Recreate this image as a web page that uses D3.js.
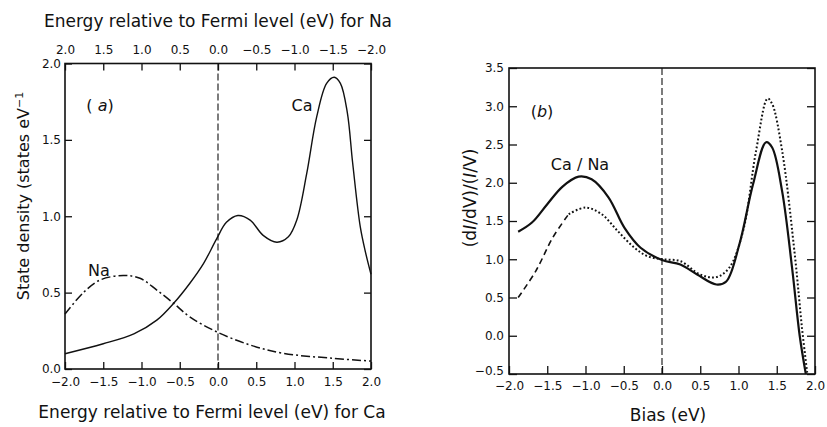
<!DOCTYPE html>
<html><head><meta charset="utf-8">
<script src="https://cdn.jsdelivr.net/npm/d3@7"></script>
<style>body{margin:0;background:#fff;} text{font-family:"DejaVu Sans",sans-serif;fill:#111;}</style>
</head><body><svg id="c" width="827" height="427"></svg>
<script>
// ---- Panel (a) data ----
const caX = [-2.0,-1.5,-1.1,-0.8,-0.58,-0.37,-0.19,-0.02,0.11,0.26,0.42,0.59,0.77,0.92,1.03,1.16,1.29,1.42,1.52,1.6,1.69,1.76,1.86,1.93,2.0];
const caY = [0.10,0.165,0.23,0.32,0.43,0.56,0.69,0.85,0.96,1.005,0.975,0.875,0.83,0.865,0.975,1.28,1.65,1.87,1.91,1.87,1.68,1.35,0.93,0.76,0.62];
const naX = [-2.0,-1.76,-1.54,-1.24,-1.02,-0.8,-0.58,-0.37,-0.02,0.42,0.85,1.5,2.0];
const naY = [0.36,0.50,0.583,0.612,0.594,0.517,0.43,0.342,0.244,0.157,0.103,0.07,0.052];
const xTicksA = [-2.0,-1.5,-1.0,-0.5,0.0,0.5,1.0,1.5,2.0];
const yTicksA = [0.0,0.5,1.0,1.5,2.0];
// ---- Panel (b) data ----
const solidX = [-1.88,-1.7,-1.5,-1.3,-1.09,-0.92,-0.7,-0.49,-0.28,0.0,0.24,0.46,0.71,0.84,1.01,1.19,1.36,1.44,1.57,1.70,1.80,1.88];
const solidY = [1.36,1.48,1.72,1.95,2.08,2.045,1.81,1.41,1.15,0.99,0.93,0.80,0.67,0.71,1.19,1.98,2.53,2.46,1.89,0.89,0.0,-0.5];
const dotX = [-1.88,-1.65,-1.43,-1.22,-1.0,-0.79,-0.58,-0.36,-0.19,0.0,0.24,0.5,0.71,0.88,1.06,1.23,1.38,1.44,1.57,1.74,1.83,1.9];
const dotY = [0.5,0.845,1.28,1.59,1.675,1.59,1.37,1.15,1.04,1.0,0.975,0.80,0.766,0.89,1.37,2.42,3.10,3.03,2.42,1.02,0.1,-0.5];
const xTicksB = [-2.0,-1.5,-1.0,-0.5,0.0,0.5,1.0,1.5,2.0];
const yTicksB = [-0.5,0.0,0.5,1.0,1.5,2.0,2.5,3.0,3.5];

const svg = d3.select("#c");
const fmt = d3.format(".1f");
const curve = d3.curveCatmullRom.alpha(0.5);

// ---------- Panel a ----------
const A = {l:65, r:371, t:63.5, b:369};
const xa = d3.scaleLinear().domain([-2,2]).range([A.l,A.r]);
const xaNa = d3.scaleLinear().domain([2,-2]).range([A.l,A.r]);
const ya = d3.scaleLinear().domain([0,2]).range([A.b,A.t]);
const ga = svg.append("g");

function styleAxis(g){ g.select(".domain").remove(); g.selectAll(".tick line").attr("stroke","#111").attr("stroke-width",1.3);
  g.selectAll("text").style("font-size","12px").attr("fill","#111"); }

ga.append("g").attr("transform",`translate(0,${A.b})`)
  .call(d3.axisBottom(xa).tickValues(xTicksA).tickFormat(fmt).tickSize(-7).tickPadding(8)).call(styleAxis);
ga.append("g").attr("transform",`translate(0,${A.t})`)
  .call(d3.axisTop(xaNa).tickValues(xTicksA).tickFormat(fmt).tickSize(-7).tickPadding(9.5)).call(styleAxis);
ga.append("g").attr("transform",`translate(${A.l},0)`)
  .call(d3.axisLeft(ya).tickValues(yTicksA).tickFormat(fmt).tickSize(-7).tickPadding(4)).call(styleAxis);
ga.append("g").attr("transform",`translate(${A.r},0)`)
  .call(d3.axisRight(ya).tickValues(yTicksA).tickFormat("").tickSize(-7)).call(styleAxis);
ga.append("rect").attr("x",A.l).attr("y",A.t).attr("width",A.r-A.l).attr("height",A.b-A.t)
  .attr("fill","none").attr("stroke","#111").attr("stroke-width",1.6);
ga.append("line").attr("x1",xa(0)).attr("x2",xa(0)).attr("y1",A.t).attr("y2",A.b)
  .attr("stroke","#111").attr("stroke-width",1.1).attr("stroke-dasharray","7,3");

const lineA = d3.line().x(d=>xa(d[0])).y(d=>ya(d[1])).curve(curve);
ga.append("path").attr("d",lineA(d3.zip(caX,caY))).attr("fill","none").attr("stroke","#111").attr("stroke-width",1.4);
ga.append("path").attr("d",lineA(d3.zip(naX,naY))).attr("fill","none").attr("stroke","#111").attr("stroke-width",1.5)
  .attr("stroke-dasharray","9,3,2,3");

ga.append("text").attr("x",218).attr("y",27).attr("text-anchor","middle").style("font-size","17px")
  .text("Energy relative to Fermi level (eV) for Na");
ga.append("text").attr("x",212).attr("y",418).attr("text-anchor","middle").style("font-size","17px")
  .text("Energy relative to Fermi level (eV) for Ca");
const yla = ga.append("text").attr("transform","translate(29,196) rotate(-90)").attr("text-anchor","middle").style("font-size","16px");
yla.append("tspan").text("State density (states eV");
yla.append("tspan").attr("dy",-6).style("font-size","11px").text("−1");
const ta = ga.append("text").attr("x",100).attr("y",111).attr("text-anchor","middle").style("font-size","16px");
ta.append("tspan").text("( ");
ta.append("tspan").style("font-style","italic").text("a");
ta.append("tspan").text(")");
ga.append("text").attr("x",302).attr("y",111).attr("text-anchor","middle").style("font-size","16px").text("Ca");
ga.append("text").attr("x",99).attr("y",276).attr("text-anchor","middle").style("font-size","16px").text("Na");

// ---------- Panel b ----------
const B = {l:509, r:815, t:68, b:374};
const xb = d3.scaleLinear().domain([-2,2]).range([B.l,B.r]);
const yb = d3.scaleLinear().domain([-0.5,3.5]).range([B.b,B.t]);
const gb = svg.append("g");
gb.append("defs").append("clipPath").attr("id","clipB").append("rect")
  .attr("x",B.l).attr("y",B.t).attr("width",B.r-B.l).attr("height",B.b-B.t);

gb.append("g").attr("transform",`translate(0,${B.b})`)
  .call(d3.axisBottom(xb).tickValues(xTicksB).tickFormat(fmt).tickSize(-8).tickPadding(7)).call(styleAxis);
const yAxB = gb.append("g").attr("transform",`translate(${B.l},0)`)
  .call(d3.axisLeft(yb).tickValues(yTicksB).tickFormat(fmt).tickSize(-8).tickPadding(5)).call(styleAxis);
yAxB.selectAll(".tick").filter(d=>d===-0.5).select("text").attr("y",-3);
gb.append("g").attr("transform",`translate(${B.r},0)`)
  .call(d3.axisRight(yb).tickValues(yTicksB).tickFormat("").tickSize(-8)).call(styleAxis);
gb.append("rect").attr("x",B.l).attr("y",B.t).attr("width",B.r-B.l).attr("height",B.b-B.t)
  .attr("fill","none").attr("stroke","#111").attr("stroke-width",1.6);
gb.append("line").attr("x1",xb(0)).attr("x2",xb(0)).attr("y1",B.t).attr("y2",B.b)
  .attr("stroke","#111").attr("stroke-width",1.1).attr("stroke-dasharray","7,3");

const lineB = d3.line().x(d=>xb(d[0])).y(d=>yb(d[1])).curve(curve);
const cb = gb.append("g").attr("clip-path","url(#clipB)");
cb.append("path").attr("d",lineB(d3.zip(solidX,solidY))).attr("fill","none").attr("stroke","#111").attr("stroke-width",2.2);
const dotPts = d3.zip(dotX,dotY);
// left part drawn dashed, the rest dotted
cb.append("path").attr("d",lineB(dotPts.filter(d=>d[0]<=-1.22))).attr("fill","none").attr("stroke","#111")
  .attr("stroke-width",1.6).attr("stroke-dasharray","6,4");
cb.append("path").attr("d",lineB(dotPts.filter(d=>d[0]>=-1.22))).attr("fill","none").attr("stroke","#111")
  .attr("stroke-width",2).attr("stroke-dasharray","1.8,2.2");

gb.append("text").attr("x",668).attr("y",421).attr("text-anchor","middle").style("font-size","17px").text("Bias  (eV)");
const ylb = gb.append("text").attr("transform","translate(476,198) rotate(-90)").attr("text-anchor","middle").style("font-size","17px");
ylb.append("tspan").text("(d");
ylb.append("tspan").style("font-style","italic").text("I");
ylb.append("tspan").text("/dV)/(");
ylb.append("tspan").style("font-style","italic").text("I");
ylb.append("tspan").text("/V)");
const tb = gb.append("text").attr("x",542).attr("y",117).attr("text-anchor","middle").style("font-size","16px");
tb.append("tspan").text("(");
tb.append("tspan").style("font-style","italic").text("b");
tb.append("tspan").text(")");
gb.append("text").attr("x",580).attr("y",170).attr("text-anchor","middle").style("font-size","16px").text("Ca / Na");
</script></body></html>
